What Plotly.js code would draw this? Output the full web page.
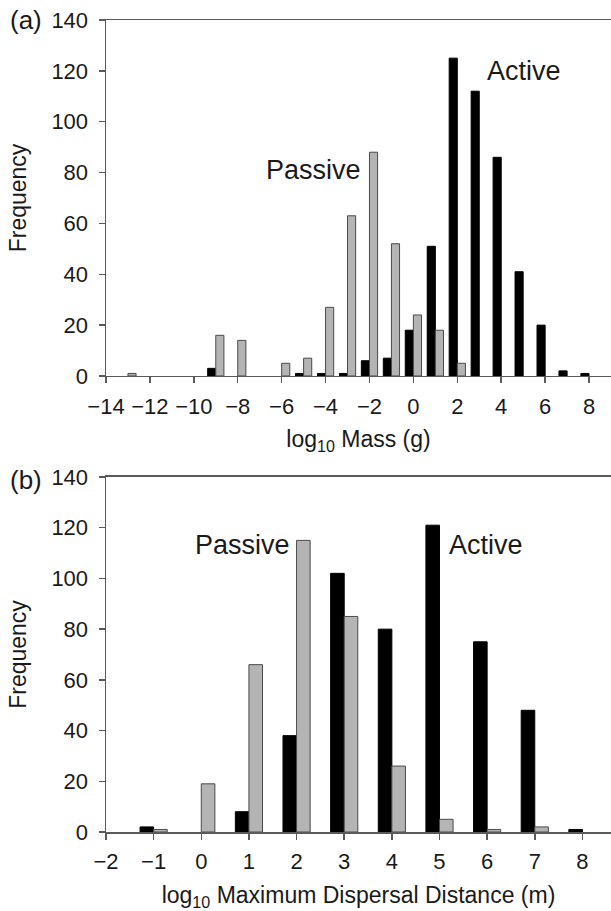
<!DOCTYPE html>
<html><head><meta charset="utf-8">
<script src="https://cdn.plot.ly/plotly-3.0.1.min.js"></script>
<style>html,body{margin:0;padding:0;background:#fff}</style>
</head><body><div id="chart" style="width:611px;height:911px"></div>
<script>
// Panel (a): log10 Mass (g)
const massBins = [-13,-9,-8,-6,-5,-4,-3,-2,-1,0,1,2,3,4,5,6,7,8];
const massActive = [0,3,0,0,1,1,1,6,7,18,51,125,112,86,41,20,2,1];
const massPassive = [1,16,14,5,7,27,63,88,52,24,18,5,0,0,0,0,0,0];
// Panel (b): log10 Maximum Dispersal Distance (m)
const distBins = [-1,0,1,2,3,4,5,6,7,8];
const distActive = [2,0,8,38,102,80,121,75,48,1];
const distPassive = [1,19,66,115,85,26,5,1,2,0];
const massTicks = [-14,-12,-10,-8,-6,-4,-2,0,2,4,6,8];
const distTicks = [-2,-1,0,1,2,3,4,5,6,7,8];
const yTicks = [0,20,40,60,80,100,120,140];

const FONT = "Liberation Sans, Arial, sans-serif";
const TXT = '#1a1a1a';
const activeStyle = {color:'#000000', line:{color:'#000000', width:1}};
const passiveStyle = {color:'#b4b4b4', line:{color:'#4a4a4a', width:1}};

// keep only non-empty bins for drawing
function nz(xs, ys){
  const x=[], y=[];
  xs.forEach((v,i)=>{ if(ys[i]>0){ x.push(v); y.push(ys[i]); } });
  return {x, y};
}
const wA = 0.37, wB = 0.285;
const mA = nz(massBins, massActive), mP = nz(massBins, massPassive);
const dA = nz(distBins, distActive), dP = nz(distBins, distPassive);

const traces = [
  {type:'bar', x:mA.x, y:mA.y, width:wA, offset:-wA, name:'Active', marker:activeStyle, xaxis:'x', yaxis:'y'},
  {type:'bar', x:mP.x, y:mP.y, width:wA, offset:0, name:'Passive', marker:passiveStyle, xaxis:'x', yaxis:'y'},
  {type:'bar', x:dA.x, y:dA.y, width:wB, offset:-wB, name:'Active', marker:activeStyle, xaxis:'x2', yaxis:'y2'},
  {type:'bar', x:dP.x, y:dP.y, width:wB, offset:0, name:'Passive', marker:passiveStyle, xaxis:'x2', yaxis:'y2'}
];

const axisCommon = {
  showgrid:false, zeroline:false, showline:true, linecolor:'#5a5a5a', linewidth:1.5,
  ticks:'outside', ticklen:6, tickcolor:'#5a5a5a', tickwidth:1.5,
  tickfont:{family:FONT, size:22, color:TXT}, fixedrange:true
};
const titleFont = {family:FONT, size:23, color:TXT};
const minus = v => v<0 ? '\u2212'+Math.abs(v) : String(v);

const layout = {
  width:611, height:911,
  margin:{l:106, r:0, t:20, b:79},
  paper_bgcolor:'#fff', plot_bgcolor:'#fff',
  showlegend:false, barmode:'overlay',
  font:{family:FONT, color:TXT},
  xaxis: Object.assign({}, axisCommon, {
    domain:[0,1], anchor:'y', range:[-14,9], tickmode:'array', tickvals:massTicks,
    ticktext:massTicks.map(minus), mirror:true, ticklabelstandoff:4,
    title:{text:'log<sub>10</sub> Mass (g)', font:titleFont, standoff:13}
  }),
  yaxis: Object.assign({}, axisCommon, {
    domain:[0.5616,1], anchor:'x', range:[0,140], tickmode:'array', tickvals:yTicks,
    ticklabelstandoff:6,
    title:{text:'Frequency', font:titleFont, standoff:18}
  }),
  xaxis2: Object.assign({}, axisCommon, {
    domain:[0,1], anchor:'y2', range:[-2,8.6], tickmode:'array', tickvals:distTicks,
    ticktext:distTicks.map(minus), mirror:true, ticklabelstandoff:3,
    title:{text:'log<sub>10</sub> Maximum Dispersal Distance (m)', font:titleFont, standoff:18}
  }),
  yaxis2: Object.assign({}, axisCommon, {
    domain:[0,0.4372], anchor:'x2', range:[0,140], tickmode:'array', tickvals:yTicks,
    ticklabelstandoff:6,
    title:{text:'Frequency', font:titleFont, standoff:18}
  }),
  annotations:[
    {xref:'x', yref:'y', x:-2.3, y:81, text:'Passive', showarrow:false, xanchor:'right', yanchor:'middle', font:{family:FONT, size:27, color:TXT}},
    {xref:'x', yref:'y', x:3.25, y:120, text:'Active', showarrow:false, xanchor:'left', yanchor:'middle', font:{family:FONT, size:27, color:TXT}},
    {xref:'x2', yref:'y2', x:1.9, y:113, text:'Passive', showarrow:false, xanchor:'right', yanchor:'middle', font:{family:FONT, size:27, color:TXT}},
    {xref:'x2', yref:'y2', x:5.15, y:113, text:'Active', showarrow:false, xanchor:'left', yanchor:'middle', font:{family:FONT, size:27, color:TXT}},
    {xref:'paper', yref:'paper', x:-0.195, y:1.0, text:'(a)', showarrow:false, xanchor:'left', yanchor:'middle', font:{family:FONT, size:26, color:TXT}},
    {xref:'paper', yref:'paper', x:-0.195, y:0.434, text:'(b)', showarrow:false, xanchor:'left', yanchor:'middle', font:{family:FONT, size:26, color:TXT}}
  ]
};

Plotly.newPlot('chart', traces, layout, {displayModeBar:false, staticPlot:true});
</script></body></html>
